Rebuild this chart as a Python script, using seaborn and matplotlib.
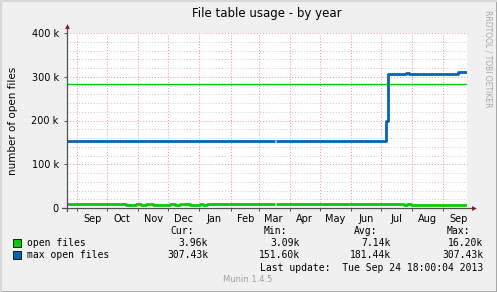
import matplotlib
matplotlib.use("Agg")
import matplotlib.pyplot as plt
import seaborn as sns
import pandas as pd
import numpy as np

# ---------------- data ----------------
# open files (k) : step breakpoints (date, value); NaN = gap
open_dates = ["2012-08-22", "2012-10-20", "2012-10-30", "2012-11-04", "2012-11-09",
              "2012-11-16", "2012-12-03", "2012-12-08", "2012-12-13", "2012-12-23",
              "2013-01-02", "2013-01-05", "2013-01-09", "2013-03-01", "2013-03-17",
              "2013-03-18", "2013-07-24", "2013-07-27", "2013-07-31", "2013-09-24 18:00"]
open_vals = [10.0, 7.5, 9.0, 7.5, 9.0,
             7.5, 9.0, 7.5, 9.0, 7.5,
             9.5, 8.0, 10.0, 8.5, np.nan,
             8.5, 6.5, 8.5, 6.0, 6.0]

# max open files (k)
max_dates = ["2012-08-22", "2013-03-17", "2013-03-18", "2013-07-06", "2013-07-08",
             "2013-07-26", "2013-07-29", "2013-09-16", "2013-09-24 18:00"]
max_vals = [154.0, np.nan, 154.0, 200.0, 307.0,
            309.0, 307.0, 310.0, 310.0]

limit_line = 283.0  # k, horizontal rule

series_names = ["open files", "max open files"]
series_colors = ["#00CC00", "#0066B3"]
cur_vals = ["3.96k", "307.43k"]
min_vals = ["3.09k", "151.60k"]
avg_vals = ["7.14k", "181.44k"]
max_stats = ["16.20k", "307.43k"]

y_ticks = [0, 100, 200, 300, 400]
y_labels = ["0", "100 k", "200 k", "300 k", "400 k"]
month_labels = ["Sep", "Oct", "Nov", "Dec", "Jan", "Feb", "Mar",
                "Apr", "May", "Jun", "Jul", "Aug", "Sep"]


def to_frame(dates, vals, name):
    rows = []
    seg = 0
    for d, v in zip(dates, vals):
        if np.isnan(v):
            rows.append((pd.Timestamp(d), rows[-1][1], seg, name))
            seg += 1
            continue
        rows.append((pd.Timestamp(d), v, seg, name))
    return pd.DataFrame(rows, columns=["date", "value", "seg", "series"])


df_open = to_frame(open_dates, open_vals, "open files")
df_max = to_frame(max_dates, max_vals, "max open files")

# ---------------- figure ----------------
W, H = 497, 292
fig = plt.figure(figsize=(W / 100, H / 100), dpi=100, facecolor="#F0F0F0")
left, right, top, bottom = 67, 467, 33, 208
ax = fig.add_axes([left / W, 1 - bottom / H, (right - left) / W, (bottom - top) / H])
ax.set_facecolor("white")

xmin = pd.Timestamp("2012-08-22")
xmax = pd.Timestamp("2013-09-24 18:00")
ax.set_xlim(xmin, xmax)
ax.set_ylim(0, 400)

# grid
for yv in np.arange(20, 400, 20):
    if yv % 100 == 0:
        continue
    ax.axhline(yv, color="#C8C8C8", lw=0.7, ls=(0, (1, 2)), zorder=0)
for yv in [100, 200, 300, 400]:
    ax.axhline(yv, color="#F09090", lw=0.7, ls=(0, (1, 2)), zorder=0.5, clip_on=False)
month_starts = pd.date_range("2012-09-01", "2013-09-01", freq="MS")
for m in month_starts:
    ax.axvline(m, color="#F09090", lw=0.7, ls=(0, (1, 2)), zorder=0.5)

ax.axhline(limit_line, color="#00CC00", lw=1.0, zorder=2)

sns.lineplot(data=df_open, x="date", y="value", units="seg", estimator=None,
             color=series_colors[0], lw=2, drawstyle="steps-post", ax=ax, zorder=3,
             solid_capstyle="butt")
sns.lineplot(data=df_max, x="date", y="value", units="seg", estimator=None,
             color=series_colors[1], lw=2, drawstyle="steps-post", ax=ax, zorder=3,
             solid_capstyle="butt")

for s in ax.spines.values():
    s.set_visible(False)

# axis lines with small dark-red arrowheads
ax.plot([-5 / 400, 1.0 + 6 / 400], [0, 0], color="#505050", lw=0.9,
        transform=ax.transAxes, clip_on=False, zorder=5)
ax.plot([0, 0], [-3 / 175, 1.0 + 6 / 175], color="#505050", lw=0.9,
        transform=ax.transAxes, clip_on=False, zorder=5)
ax.plot([1.0 + 7 / 400], [0], marker=">", color="#8B1A1A", ms=3.5, mew=0,
        transform=ax.transAxes, clip_on=False, zorder=6)
ax.plot([0], [1.0 + 7 / 175], marker="^", color="#8B1A1A", ms=3.5, mew=0,
        transform=ax.transAxes, clip_on=False, zorder=6)

# ticks
ax.set_yticks(y_ticks)
ax.set_yticklabels(y_labels, fontsize=7, color="black")
ax.tick_params(axis="y", length=2, width=0.7, color="#505050", pad=4)
ax.set_xticks(month_starts)
ax.set_xticklabels([])
ax.tick_params(axis="x", length=2, width=0.7, color="#505050")
mids = [m + pd.Timedelta(days=15) for m in month_starts]
for m, lab in zip(mids, month_labels):
    ax.text(m, -11 / 175, lab, transform=ax.get_xaxis_transform(),
            ha="center", va="center", fontsize=7, color="black")
ax.set_xlabel("")
ax.set_ylabel("number of open files", fontsize=7.5)
ax.yaxis.set_label_coords(-49 / 400, 0.5)

# title
fig.text((left + right) / 2 / W, 1 - 13 / H, "File table usage - by year",
         ha="center", va="center", fontsize=8.5)
fig.text(488 / W, 1 - 10 / H, "RRDTOOL / TOBI OETIKER", rotation=-90,
         ha="center", va="top", fontsize=5.5, color="#A8A8A8")

# legend table
mono = "DejaVu Sans Mono"
fs = 7
headers = ["Cur:", "Min:", "Avg:", "Max:"]
head_x = [194, 287, 377, 470]
val_x = [208, 300, 391, 483]
for hx, h in zip(head_x, headers):
    fig.text(hx / W, 1 - 231 / H, h, ha="right", va="center", family=mono, fontsize=fs)
row_y = [243, 255]
for i in range(2):
    y = row_y[i]
    fig.patches.append(plt.Rectangle((13 / W, 1 - (y + 4) / H), 8 / W, 8 / H,
                                     transform=fig.transFigure, facecolor=series_colors[i],
                                     edgecolor="black", lw=0.6))
    fig.text(27 / W, 1 - y / H, series_names[i], ha="left", va="center",
             family=mono, fontsize=fs)
    for vx, col in zip(val_x, [cur_vals, min_vals, avg_vals, max_stats]):
        fig.text(vx / W, 1 - y / H, col[i], ha="right", va="center",
                 family=mono, fontsize=fs)
fig.text(483 / W, 1 - 268 / H, "Last update:  Tue Sep 24 18:00:04 2013",
         ha="right", va="center", family=mono, fontsize=fs)
fig.text(248 / W, 1 - 280 / H, "Munin 1.4.5", ha="center", va="center",
         fontsize=6, color="#A0A0A0")

# border (3D frame)
fig.lines.append(plt.Line2D([0, 1], [0.5 / H, 0.5 / H], transform=fig.transFigure,
                            color="#A0A0A0", lw=2))
fig.lines.append(plt.Line2D([1 - 0.5 / W, 1 - 0.5 / W], [0, 1], transform=fig.transFigure,
                            color="#A0A0A0", lw=2))
fig.lines.append(plt.Line2D([0, 1], [1 - 0.5 / H, 1 - 0.5 / H], transform=fig.transFigure,
                            color="#D8D8D8", lw=1.5))
fig.lines.append(plt.Line2D([0.5 / W, 0.5 / W], [0, 1], transform=fig.transFigure,
                            color="#D8D8D8", lw=1.5))

fig.savefig("out.png", dpi=100, facecolor=fig.get_facecolor())
